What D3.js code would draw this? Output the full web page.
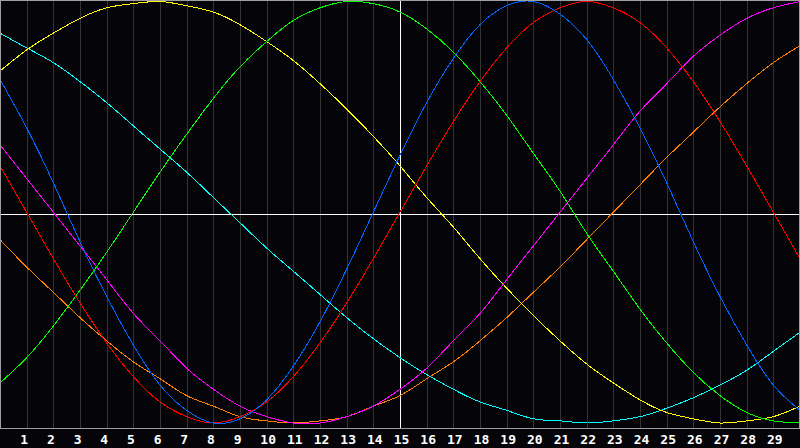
<!DOCTYPE html>
<html>
<head>
<meta charset="utf-8">
<script src="https://cdn.jsdelivr.net/npm/d3@7"></script>
<style>
  html, body { margin: 0; padding: 0; background: #050408; }
  svg { display: block; }
</style>
</head>
<body>
<script>
// day index along the bottom, 0..30
var days = d3.range(0, 31);
var tick_days = d3.range(1, 30);

// cycle values, -100..100, one per day
var blue_values = [63, 40, 14, -14, -40, -63, -82, -94, -100, -98, -89, -73, -52, -27, 0, 27, 52, 73, 89, 98, 100, 94, 82, 63, 40, 14, -14, -40, -63, -82, -94];
var red_values = [22, 0, -22, -43, -62, -78, -90, -97, -100, -97, -90, -78, -62, -43, -22, 0, 22, 43, 62, 78, 90, 97, 100, 97, 90, 78, 62, 43, 22, 0, -22];
var green_values = [-81, -69, -54, -37, -19, 0, 19, 37, 54, 69, 81, 91, 97, 100, 99, 95, 87, 76, 62, 46, 28, 10, -10, -28, -46, -62, -76, -87, -95, -99, -100];
var magenta_values = [32, 16, 0, -16, -32, -48, -61, -74, -84, -92, -97, -100, -100, -97, -92, -84, -74, -61, -48, -32, -16, 0, 16, 32, 48, 61, 74, 84, 92, 97, 100];
var yellow_values = [67, 77, 85, 92, 97, 99, 100, 98, 95, 89, 81, 72, 61, 49, 36, 22, 7, -7, -22, -36, -49, -61, -72, -81, -89, -95, -98, -100, -99, -97, -92];
var orange_values = [-13, -26, -38, -50, -61, -71, -79, -87, -92, -97, -99, -100, -99, -97, -92, -87, -79, -71, -61, -50, -38, -26, -13, 0, 13, 26, 38, 50, 61, 71, 79];
var cyan_values = [85, 78, 71, 62, 52, 41, 30, 19, 7, -5, -17, -28, -39, -50, -60, -69, -77, -84, -90, -94, -98, -99, -100, -99, -97, -93, -88, -82, -75, -66, -57];

var series = [
    { color: "#ff8000", values: orange_values },
    { color: "#00ffff", values: cyan_values },
    { color: "#ffff00", values: yellow_values },
    { color: "#ff00ff", values: magenta_values },
    { color: "#00ff00", values: green_values },
    { color: "#ff0000", values: red_values },
    { color: "#0066ff", values: blue_values }
];

var width = 800,
    height = 448,
    plot_height = 428;

var svg = d3.select("body").append("svg")
    .attr("width", width)
    .attr("height", height);

svg.append("rect")
    .attr("width", width)
    .attr("height", height)
    .attr("fill", "#050408");

var x = d3.scaleLinear().domain([0, 30]).range([0, width]);
var y = d3.scaleLinear().domain([-100, 100]).range([423, 1.5]);

// vertical day grid
var grid = svg.append("g")
    .attr("transform", "translate(0," + plot_height + ")")
    .call(d3.axisBottom(x).tickValues(tick_days).tickSize(-plot_height).tickFormat(""));
grid.select(".domain").remove();
grid.selectAll("line")
    .attr("stroke", "#333333")
    .attr("shape-rendering", "crispEdges");

// today line and zero line
svg.append("line")
    .attr("x1", x(15)).attr("x2", x(15))
    .attr("y1", 0).attr("y2", plot_height)
    .attr("stroke", "#ffffff")
    .attr("shape-rendering", "crispEdges");
svg.append("line")
    .attr("x1", 0).attr("x2", width)
    .attr("y1", plot_height / 2).attr("y2", plot_height / 2)
    .attr("stroke", "#ffffff")
    .attr("shape-rendering", "crispEdges");

var line = d3.line()
    .x(function(d, i) { return x(days[i]); })
    .y(function(d) { return y(d); })
    .curve(d3.curveNatural);

svg.selectAll(".cycle")
    .data(series)
    .enter().append("path")
    .attr("class", "cycle")
    .attr("d", function(d) { return line(d.values); })
    .attr("fill", "none")
    .attr("stroke", function(d) { return d.color; })
    .attr("stroke-width", 1)
    .attr("shape-rendering", "crispEdges");

// frame
svg.append("rect")
    .attr("x", 0.5)
    .attr("y", 0.5)
    .attr("width", width - 1)
    .attr("height", plot_height - 0.5)
    .attr("fill", "none")
    .attr("stroke", "#a0a0a0")
    .attr("shape-rendering", "crispEdges");

// day labels
var labels = svg.append("g")
    .attr("transform", "translate(0," + plot_height + ")")
    .call(d3.axisBottom(x).tickValues(tick_days).tickSize(0).tickPadding(0));
labels.select(".domain").remove();
labels.selectAll("text")
    .attr("x", -6.8)
    .attr("y", 15.5)
    .attr("dy", null)
    .attr("text-anchor", "start")
    .attr("fill", "#ffffff")
    .style("font-family", "'DejaVu Sans Mono', monospace")
    .style("font-weight", "bold")
    .style("font-size", "13px");
</script>
</body>
</html>
